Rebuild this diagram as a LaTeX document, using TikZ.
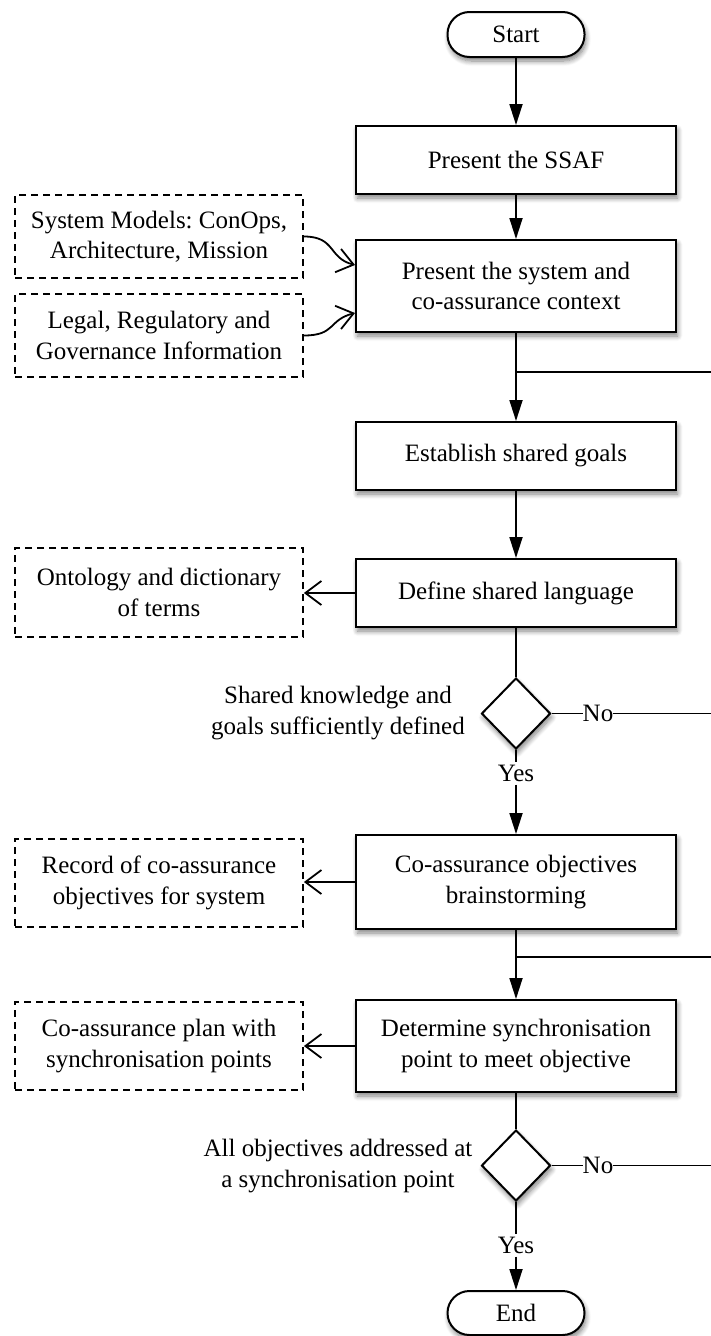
\documentclass[tikz,border=0pt]{standalone}
\usepackage{fontspec}
\setmainfont{Liberation Serif}
\frenchspacing
\usetikzlibrary{arrows.meta,shapes.geometric,shadows.blur}

\tikzset{
  txt/.style={font=\fontsize{25}{30.5}\selectfont, align=center, inner sep=0pt, text=black},
  softshadow/.style={blur shadow={shadow xshift=1.5pt, shadow yshift=-4pt,
      shadow blur radius=5pt, shadow blur steps=8, shadow opacity=50}},
  proc/.style={txt, draw, line width=2pt, fill=white, minimum width=320pt, softshadow},
  term/.style={txt, draw, line width=2pt, fill=white, minimum width=137pt,
      minimum height=45pt, rounded corners=22pt, softshadow},
  doc/.style={txt, draw, line width=1.8pt, dash pattern=on 7pt off 5pt,
      minimum width=288pt},
  decision/.style={diamond, draw, line width=2pt, fill=white, inner sep=0pt,
      minimum width=69pt, minimum height=71pt, softshadow},
  lbl/.style={txt, inner sep=3pt},
  link/.style={line width=1.8pt},
  flow/.style={link, -{Triangle[length=21pt, width=13pt]}},
  feed/.style={link, -{Straight Barb[length=16pt, width=24pt]}},
}

\begin{document}
\begin{tikzpicture}[x=1pt, y=-1pt]
  \useasboundingbox (0,0) rectangle (711,1336);

  % main column
  \node[term] (start) at (516,34.5) {Start};
  \node[proc, minimum height=68pt] (ssaf) at (516,160) {Present the SSAF};
  \node[proc, minimum height=92pt] (sys) at (516,286) {Present the system and\\co-assurance context};
  \node[proc, minimum height=68pt] (est) at (516,456) {Establish shared goals};
  \node[proc, minimum height=68pt] (def) at (516,593) {Define shared language};
  \node[decision] (d1) at (516,713.5) {};
  \node[proc, minimum height=94pt] (coass) at (516,882) {Co-assurance objectives\\brainstorming};
  \node[proc, minimum height=92pt] (det) at (516,1046) {Determine synchronisation\\point to meet objective};
  \node[decision] (d2) at (516,1165.5) {};
  \node[term, minimum height=44pt] (end) at (516,1313) {End};

  % side documents
  \node[doc, minimum height=83pt] (models) at (159,236.5) {System Models: ConOps,\\Architecture, Mission};
  \node[doc, minimum height=83pt] (legal) at (159,335.5) {Legal, Regulatory and\\Governance Information};
  \node[doc, minimum height=89pt] (onto) at (159,592.5) {Ontology and dictionary\\of terms};
  \node[doc, minimum height=88pt] (record) at (159,883) {Record of co-assurance\\objectives for system};
  \node[doc, minimum height=88pt] (plan) at (159,1046) {Co-assurance plan with\\synchronisation points};

  % decision texts and branch labels
  \node[txt] (q1) at (338,713) {Shared knowledge and\\goals sufficiently defined};
  \node[txt] (q2) at (338,1166) {All objectives addressed at\\a synchronisation point};
  \node[txt] (no1) at (598,713.5) {No};
  \node[txt] (no2) at (598,1165.5) {No};
  \node[lbl] (yes1) at (516,773) {Yes};
  \node[lbl] (yes2) at (516,1245) {Yes};

  % junctions and loose ends at the right margin
  \coordinate (j1) at (516,372);
  \coordinate (j2) at (516,957);
  \coordinate (r1) at (711,372);
  \coordinate (r2) at (711,713.5);
  \coordinate (r3) at (711,957);
  \coordinate (r4) at (711,1165.5);
  \coordinate (in1) at (sys.west |- 0,265);
  \coordinate (in2) at (sys.west |- 0,313);

  % main flow
  \draw[flow] (start) -- (ssaf);
  \draw[flow] (ssaf) -- (sys);
  \draw[link] (sys.south) -- (j1);
  \draw[flow] (j1) -- (est.north);
  \draw[link] (j1) -- (r1);
  \draw[flow] (est) -- (def);
  \draw[link] (def.south) -- (d1.north);
  \draw[link] (d1.east) -- (no1.west |- d1.east);
  \draw[link] (no1.east |- d1.east) -- (r2);
  \draw[link] (d1.south) -- (yes1.north);
  \draw[flow] (yes1.south) -- (coass.north);
  \draw[link] (coass.south) -- (j2);
  \draw[flow] (j2) -- (det.north);
  \draw[link] (j2) -- (r3);
  \draw[link] (det.south) -- (d2.north);
  \draw[link] (d2.east) -- (no2.west |- d2.east);
  \draw[link] (no2.east |- d2.east) -- (r4);
  \draw[link] (d2.south) -- (yes2.north);
  \draw[flow] (yes2.south) -- (end.north);

  % inputs and outputs
  \draw[feed] (models.east) .. controls +(32,0) and +(-27,-7) .. (in1);
  \draw[feed] (legal.east) .. controls +(32,0) and +(-27,7) .. (in2);
  \draw[feed] (def.west) -- (onto.east |- def.west);
  \draw[feed] (coass.west) -- (record.east |- coass.west);
  \draw[feed] (det.west) -- (plan.east |- det.west);
\end{tikzpicture}
\end{document}
